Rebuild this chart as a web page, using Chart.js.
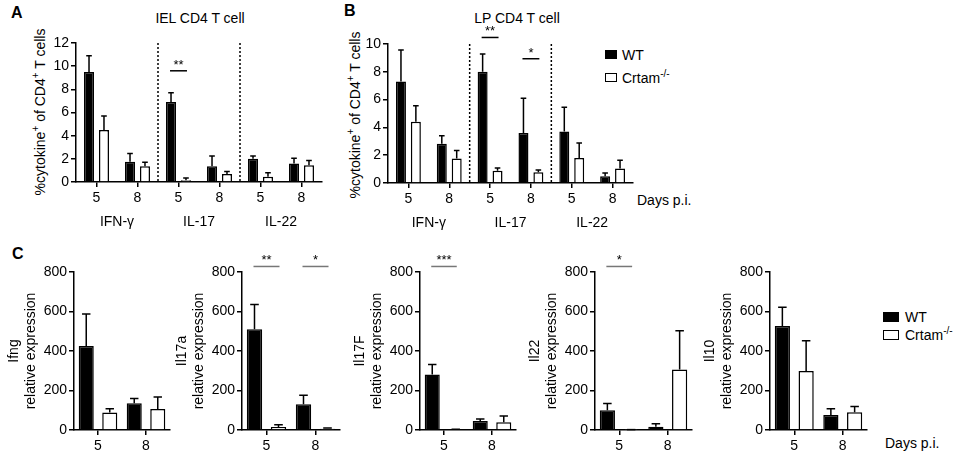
<!DOCTYPE html>
<html>
<head>
<meta charset="utf-8">
<script src="https://cdn.jsdelivr.net/npm/chart.js@4.4.1/dist/chart.umd.min.js"></script>
<style>
  body { margin: 0; width: 959px; height: 453px; position: relative; overflow: hidden; background: #fff;
         font-family: "Liberation Sans", Arial, Helvetica, sans-serif; color: #000; }
  .box { position: absolute; }
  .txt { position: absolute; white-space: nowrap; font-size: 14px; line-height: 1; }
  .mid { transform: translate(-50%, -50%); }
  .rot { transform: translate(-50%, -50%) rotate(-90deg); }
  .letter { font-weight: bold; font-size: 16px; }
  .swatch { position: absolute; box-sizing: border-box; border: 1.5px solid #000; }
  sup { font-size: 10px; vertical-align: 6px; line-height: 0; }
</style>
</head>
<body>

<div class="txt letter" style="left:11px; top:5px;">A</div>
<div class="txt letter" style="left:344px; top:3px;">B</div>
<div class="txt letter" style="left:12px; top:246px;">C</div>

<div class="txt mid" style="left:200px; top:18px;">IEL CD4 T cell</div>
<div class="txt mid" style="left:517px; top:18px;">LP CD4 T cell</div>

<div class="txt rot" style="left:40px; top:112px;">%cytokine<sup>+</sup> of CD4<sup>+</sup> T cells</div>
<div class="txt rot" style="left:355px; top:115px;">%cytokine<sup>+</sup> of CD4<sup>+</sup> T cells</div>

<div class="txt" style="left:637px; top:193px;">Days p.i.</div>
<div class="txt" style="left:885px; top:436px;">Days p.i.</div>

<!-- legend, panel B -->
<div class="swatch" style="left:605px; top:50px; width:12px; height:9px; background:#000;"></div>
<div class="txt" style="left:622px; top:48px;">WT</div>
<div class="swatch" style="left:605px; top:73px; width:12px; height:9px; background:#fff;"></div>
<div class="txt" style="left:622px; top:71px;">Crtam<sup>-/-</sup></div>

<!-- legend, panel C -->
<div class="swatch" style="left:883px; top:312px; width:16px; height:10px; background:#000;"></div>
<div class="txt" style="left:905px; top:310px;">WT</div>
<div class="swatch" style="left:883px; top:330px; width:16px; height:10px; background:#fff;"></div>
<div class="txt" style="left:905px; top:328px;">Crtam<sup>-/-</sup></div>

<script>
// ---- data ----
const daysTop = ['5', '8', '5', '8', '5', '8'];
const cytokineGroups = ['IFN-γ', 'IL-17', 'IL-22'];
const daysBottom = ['5', '8'];

// A: IEL CD4 T cells (% cytokine+)
const ielWT = [9.5, 1.75, 6.9, 1.35, 2.0, 1.6];
const ielWTErr = [10.9, 2.45, 7.7, 2.25, 2.25, 2.05];
const ielKO = [4.5, 1.35, 0.15, 0.7, 0.45, 1.45];
const ielKOErr = [5.7, 1.7, 0.35, 0.9, 0.8, 1.85];
const ielSig = [[2, 9.6, '**']];

// B: LP CD4 T cells (% cytokine+)
const lpWT = [7.3, 2.82, 8.0, 3.6, 3.7, 0.48];
const lpWTErr = [9.57, 3.4, 9.28, 6.1, 5.45, 0.72];
const lpKO = [4.4, 1.77, 0.89, 0.77, 1.8, 1.05];
const lpKOErr = [5.55, 2.34, 1.08, 0.93, 2.87, 1.63];
const lpSig = [[2, 10.47, '**'], [3, 8.94, '*']];

// C: relative expression
const ifngWT = [425, 135], ifngWTErr = [587, 159], ifngKO = [88, 106], ifngKOErr = [108, 167];
const il17aWT = [510, 130], il17aWTErr = [635, 176], il17aKO = [15, 6], il17aKOErr = [27, 10];
const il17fWT = [281, 46], il17fWTErr = [332, 56], il17fKO = [3, 39], il17fKOErr = [4, 71];
const il22WT = [100, 17], il22WTErr = [134, 32], il22KO = [2, 306], il22KOErr = [2, 502];
const il10WT = [526, 76], il10WTErr = [621, 107], il10KO = [299, 90], il10KOErr = [452, 119];
const il17aSig = [[0, 828, '**'], [1, 828, '*']];
const il17fSig = [[0, 828, '***']];
const il22Sig = [[0, 828, '*']];

Chart.defaults.font.family = '"Liberation Sans", Arial, Helvetica, sans-serif';
Chart.defaults.color = '#000';

function drawPanel(box, cfg) {
  const wrap = document.createElement('div');
  wrap.className = 'box';
  wrap.style.left = (box.axisX - box.yW) + 'px';
  wrap.style.top = (box.top - box.padTop) + 'px';
  wrap.style.width = (box.right - box.axisX + box.yW + box.padRight) + 'px';
  wrap.style.height = (box.padTop + box.bottom - box.top + box.xH) + 'px';
  const canvas = document.createElement('canvas');
  wrap.appendChild(canvas);
  document.body.appendChild(wrap);

  // error bars, dotted separators, significance marks, group labels
  const extras = {
    id: 'extras',
    afterDatasetsDraw(chart) {
      const ctx = chart.ctx;
      const xs = chart.scales.x;
      const ys = chart.scales.y;
      const area = chart.chartArea;
      ctx.save();
      ctx.strokeStyle = '#000';
      ctx.lineWidth = 1.5;

      (cfg.separators || []).forEach(s => {
        const x = (xs.getPixelForValue(s) + xs.getPixelForValue(s + 1)) / 2;
        ctx.setLineDash([2, 2]);
        ctx.beginPath();
        ctx.moveTo(x, area.top);
        ctx.lineTo(x, area.bottom);
        ctx.stroke();
        ctx.setLineDash([]);
      });

      chart.data.datasets.forEach((ds, i) => {
        chart.getDatasetMeta(i).data.forEach((bar, j) => {
          const top = ys.getPixelForValue(ds.errors[j]);
          const cap = bar.width * 0.28;
          ctx.beginPath();
          ctx.moveTo(bar.x, bar.y);
          ctx.lineTo(bar.x, top);
          ctx.moveTo(bar.x - cap, top);
          ctx.lineTo(bar.x + cap, top);
          ctx.stroke();
        });
      });

      const m0 = chart.getDatasetMeta(0).data;
      const m1 = chart.getDatasetMeta(1).data;
      (cfg.sig || []).forEach(([cat, at, mark]) => {
        const y = ys.getPixelForValue(at);
        ctx.strokeStyle = cfg.sigColor || '#000';
        ctx.beginPath();
        ctx.moveTo(m0[cat].x - 1, y);
        ctx.lineTo(m1[cat].x + 1, y);
        ctx.stroke();
        ctx.fillStyle = '#000';
        ctx.font = '13px "Liberation Sans", Arial, sans-serif';
        ctx.textAlign = 'center';
        ctx.textBaseline = 'alphabetic';
        ctx.fillText(mark, (m0[cat].x + m1[cat].x) / 2, y - 2);
      });

      (cfg.groups || []).forEach((g, k) => {
        const x = (xs.getPixelForValue(2 * k) + xs.getPixelForValue(2 * k + 1)) / 2;
        ctx.fillStyle = '#000';
        ctx.font = '14px "Liberation Sans", Arial, sans-serif';
        ctx.textAlign = 'center';
        ctx.textBaseline = 'middle';
        ctx.fillText(g, x, area.bottom + 40);
      });
      ctx.restore();
    }
  };

  new Chart(canvas, {
    type: 'bar',
    data: {
      labels: cfg.labels,
      datasets: [
        { label: 'WT', data: cfg.wt, errors: cfg.wtErr, backgroundColor: '#000', borderColor: '#000', borderWidth: 1.5,
          categoryPercentage: cfg.catPct, barPercentage: cfg.barPct },
        { label: 'Crtam-/-', data: cfg.ko, errors: cfg.koErr, backgroundColor: '#fff', borderColor: '#000', borderWidth: 1.5,
          categoryPercentage: cfg.catPct, barPercentage: cfg.barPct },
      ],
    },
    options: {
      responsive: true,
      maintainAspectRatio: false,
      animation: false,
      layout: { padding: { top: box.padTop, right: box.padRight, left: 0, bottom: 0 } },
      plugins: { legend: { display: false }, tooltip: { enabled: false } },
      scales: {
        x: {
          grid: { drawOnChartArea: false, offset: false, tickLength: 5, color: '#000', lineWidth: 1.5 },
          border: { color: '#000', width: 1.5 },
          ticks: { color: '#000', font: { size: 14 }, padding: 3, maxRotation: 0, autoSkip: false },
          afterFit(s) { s.height = box.xH; },
        },
        y: {
          min: 0,
          max: cfg.max,
          grid: { drawOnChartArea: false, tickLength: 5, color: '#000', lineWidth: 1.5 },
          border: { color: '#000', width: 1.5 },
          ticks: { color: '#000', font: { size: 14 }, padding: 2, stepSize: cfg.step },
          title: cfg.title
            ? { display: true, text: cfg.title, color: '#000', font: { size: 14 }, padding: 0 }
            : { display: false },
          afterFit(s) { s.width = box.yW; },
        },
      },
    },
    plugins: [extras],
  });
}

const topBox = (axisX, right, top, bottom) => ({ axisX, right, top, bottom, yW: 30, xH: 52, padTop: 24, padRight: 4 });
const cBox = (axisX, right) => ({ axisX, right, top: 271.5, bottom: 429.5, yW: 68, xH: 24, padTop: 20, padRight: 4 });

const topCommon = { labels: daysTop, groups: cytokineGroups, separators: [1, 3], catPct: 0.73, barPct: 0.67 };
drawPanel(topBox(76, 322, 43, 182), Object.assign({}, topCommon, {
  wt: ielWT, wtErr: ielWTErr, ko: ielKO, koErr: ielKOErr, max: 12, step: 2, sig: ielSig }));
drawPanel(topBox(388, 633, 44, 183), Object.assign({}, topCommon, {
  wt: lpWT, wtErr: lpWTErr, ko: lpKO, koErr: lpKOErr, max: 10, step: 2, sig: lpSig }));

const cCommon = { labels: daysBottom, catPct: 0.98, barPct: 0.64, max: 800, step: 200, sigColor: '#777' };
drawPanel(cBox(74, 170), Object.assign({}, cCommon, {
  wt: ifngWT, wtErr: ifngWTErr, ko: ifngKO, koErr: ifngKOErr, title: ['Ifng', 'relative expression'] }));
drawPanel(cBox(242, 340), Object.assign({}, cCommon, {
  wt: il17aWT, wtErr: il17aWTErr, ko: il17aKO, koErr: il17aKOErr, title: ['Il17a', 'relative expression'], sig: il17aSig }));
drawPanel(cBox(420, 516), Object.assign({}, cCommon, {
  wt: il17fWT, wtErr: il17fWTErr, ko: il17fKO, koErr: il17fKOErr, title: ['Il17F', 'relative expression'], sig: il17fSig }));
drawPanel(cBox(595, 692), Object.assign({}, cCommon, {
  wt: il22WT, wtErr: il22WTErr, ko: il22KO, koErr: il22KOErr, title: ['Il22', 'relative expression'], sig: il22Sig }));
drawPanel(cBox(770, 867), Object.assign({}, cCommon, {
  wt: il10WT, wtErr: il10WTErr, ko: il10KO, koErr: il10KOErr, title: ['Il10', 'relative expression'] }));
</script>
</body>
</html>
